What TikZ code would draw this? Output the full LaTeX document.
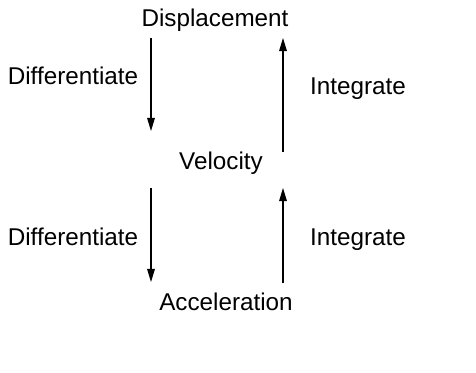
\documentclass[tikz,border=0pt]{standalone}
\usepackage{fontspec}
\setmainfont{Liberation Sans}
\usetikzlibrary{arrows.meta}

\begin{document}
\begin{tikzpicture}[x=0.02cm, y=-0.02cm, >={Triangle[length=7.5pt, width=4.4pt]}, font=\fontsize{13.8}{16}\selectfont,
	quantity/.style={inner sep=0pt},
	step label/.style={inner sep=0pt},
	link/.style={->, line width=0.6pt}]
	
	% --- Constants ---
	\def\xl{151}
	\def\xr{283}
	
	\useasboundingbox (0, 0) rectangle (476, 372);
	
	% =======================================================
	% QUANTITIES
	% =======================================================
	\node[quantity] (disp) at (215, 20) {Displacement};
	\node[quantity] (vel) at (221, 163) {Velocity};
	\node[quantity] (acc) at (226, 302) {Acceleration};
	
	% Connector end points
	\coordinate (d1) at (\xl, 38);
	\coordinate (v1) at (\xl, 131);
	\coordinate (v2) at (\xr, 152);
	\coordinate (d2) at (\xr, 38);
	\coordinate (v3) at (\xl, 188);
	\coordinate (a1) at (\xl, 282);
	\coordinate (a2) at (\xr, 283);
	\coordinate (v4) at (\xr, 188);
	
	% =======================================================
	% ARROWS AND LABELS
	% =======================================================
	\draw[link] (d1) -- (v1);
	\draw[link] (v2) -- (d2);
	\draw[link] (v3) -- (a1);
	\draw[link] (a2) -- (v4);
	
	\node[step label] (diff1) at (73, 76) {Differentiate};
	\node[step label] (int1) at (358, 89) {Integrate};
	\node[step label] (diff2) at (73, 237) {Differentiate};
	\node[step label] (int2) at (358, 240) {Integrate};
	
\end{tikzpicture}
\end{document}
